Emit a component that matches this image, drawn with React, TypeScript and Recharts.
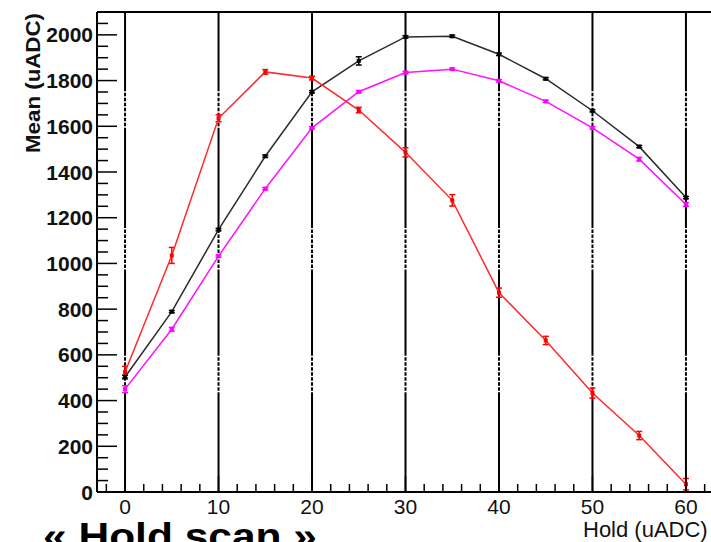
import { ComposedChart, Line, XAxis, YAxis, ReferenceLine, ErrorBar } from "recharts";

const holds = [0, 5, 10, 15, 20, 25, 30, 35, 40, 45, 50, 55, 60];
const redMean = [525, 1035, 1635, 1838, 1811, 1671, 1486, 1276, 872, 663, 433, 247, 34];
const redErr = [25, 35, 15, 10, 8, 12, 20, 25, 20, 18, 22, 18, 25];
const blackMean = [503, 789, 1148, 1469, 1751, 1886, 1991, 1994, 1915, 1808, 1668, 1511, 1288];
const blackErr = [8, 5, 5, 5, 5, 18, 5, 5, 5, 5, 5, 5, 5];
const magentaMean = [450, 712, 1032, 1327, 1593, 1751, 1835, 1850, 1799, 1709, 1593, 1456, 1258];
const magentaErr = [15, 8, 5, 5, 5, 5, 5, 5, 5, 5, 5, 8, 8];

const xTicks = Array.from({ length: 33 }, (_, i) => -2 + i * 2);
const yTicks = Array.from({ length: 42 }, (_, i) => i * 50);
const gridX = [0, 10, 20, 30, 40, 50, 60];
// white dash bands visible on the grid lines in the scan
const gapBands = [
  [1594, 1760],
  [973, 1161],
  [436, 611],
];

const data = holds.map((h, i) => ({
  hold: h,
  red: redMean[i],
  redErr: redErr[i],
  black: blackMean[i],
  blackErr: blackErr[i],
  magenta: magentaMean[i],
  magentaErr: magentaErr[i],
}));

const FONT = "'Liberation Sans', Arial, Helvetica, sans-serif";

const XTick = (props: any) => {
  const { x, y, payload } = props;
  const v = payload.value as number;
  const major = v % 10 === 0;
  return (
    <g>
      <line x1={x} x2={x} y1={y} y2={y - (major ? 16 : 8)} stroke="#000" strokeWidth={1.5} />
      {major && (
        <text x={x} y={y + 22} textAnchor="middle" fontSize={21} fontFamily={FONT} fill="#111">
          {v}
        </text>
      )}
    </g>
  );
};

const YTick = (props: any) => {
  const { x, y, payload } = props;
  const v = payload.value as number;
  const major = v % 200 === 0;
  return (
    <g>
      <line x1={x} x2={x + (major ? 20 : 11)} y1={y} y2={y} stroke="#000" strokeWidth={1.5} />
      {major && (
        <text x={x - 4} y={y + 7.5} textAnchor="end" fontSize={21} fontWeight="bold" fontFamily={FONT} fill="#111">
          {v}
        </text>
      )}
    </g>
  );
};

const squareDot = (color: string, size: number) => (props: any) => {
  const { cx, cy, index } = props;
  if (cx == null || cy == null) return <g key={index} />;
  return <rect key={index} x={cx - size / 2} y={cy - size / 2} width={size} height={size} fill={color} />;
};

export default function App() {
  return (
    <div
      style={{
        position: "absolute",
        left: 0,
        top: 0,
        width: 711,
        height: 542,
        overflow: "hidden",
        background: "#fff",
      }}
    >
      <ComposedChart width={720} height={542} data={data} margin={{ top: 12, right: 6, left: 0, bottom: 0 }}>
        <XAxis
          dataKey="hold"
          type="number"
          domain={[-3, 63]}
          ticks={xTicks}
          interval={0}
          height={50}
          tickSize={0}
          tickMargin={0}
          tickLine={false}
          tick={<XTick />}
          axisLine={{ stroke: "#000", strokeWidth: 2 }}
          allowDataOverflow
        />
        <YAxis
          type="number"
          domain={[0, 2100]}
          ticks={yTicks}
          interval={0}
          width={97}
          tickSize={0}
          tickMargin={0}
          tickLine={false}
          tick={<YTick />}
          axisLine={{ stroke: "#000", strokeWidth: 2 }}
          allowDataOverflow
        />
        <ReferenceLine y={2100} stroke="#000" strokeWidth={2} />
        {gridX.map((gx) => (
          <ReferenceLine key={"g" + gx} x={gx} stroke="#000" strokeWidth={2} />
        ))}
        {gridX.map((gx) =>
          gapBands.map(([a, b]) => (
            <ReferenceLine
              key={"w" + gx + "-" + a}
              segment={[
                { x: gx, y: a },
                { x: gx, y: b },
              ]}
              stroke="#fff"
              strokeWidth={3}
              strokeDasharray="1.5 3.5"
            />
          ))
        )}
        <Line
          dataKey="black"
          stroke="#2a2a2a"
          strokeWidth={1.5}
          dot={squareDot("#000", 4)}
          activeDot={false}
          isAnimationActive={false}
        >
          <ErrorBar dataKey="blackErr" direction="y" width={3} stroke="#000" strokeWidth={1.5} />
        </Line>
        <Line
          dataKey="magenta"
          stroke="#ff10ff"
          strokeWidth={1.5}
          dot={squareDot("#ff00ff", 4)}
          activeDot={false}
          isAnimationActive={false}
        >
          <ErrorBar dataKey="magentaErr" direction="y" width={3} stroke="#ff00ff" strokeWidth={1.5} />
        </Line>
        <Line
          dataKey="red"
          stroke="#ff2a2a"
          strokeWidth={1.5}
          dot={squareDot("#ff0000", 4)}
          activeDot={false}
          isAnimationActive={false}
        >
          <ErrorBar dataKey="redErr" direction="y" width={3} stroke="#ff0000" strokeWidth={1.5} />
        </Line>
      </ComposedChart>
      <svg width={711} height={542} style={{ position: "absolute", left: 0, top: 0, pointerEvents: "none" }}>
        <text
          x={39.5}
          y={83}
          transform="rotate(-90, 39.5, 83)"
          textAnchor="middle"
          fontSize={21}
          fontWeight="bold"
          fontFamily={FONT}
          fill="#111"
          textLength={140}
          lengthAdjust="spacingAndGlyphs"
        >
          Mean (uADC)
        </text>
        <text x={583} y={537} fontSize={22} fontFamily={FONT} fill="#111">
          Hold (uADC)
        </text>
        <text
          x={43}
          y={549}
          fontSize={36}
          fontWeight="bold"
          fontFamily={FONT}
          fill="#000"
          textLength={274}
          lengthAdjust="spacingAndGlyphs"
        >
          « Hold scan »
        </text>
      </svg>
    </div>
  );
}
